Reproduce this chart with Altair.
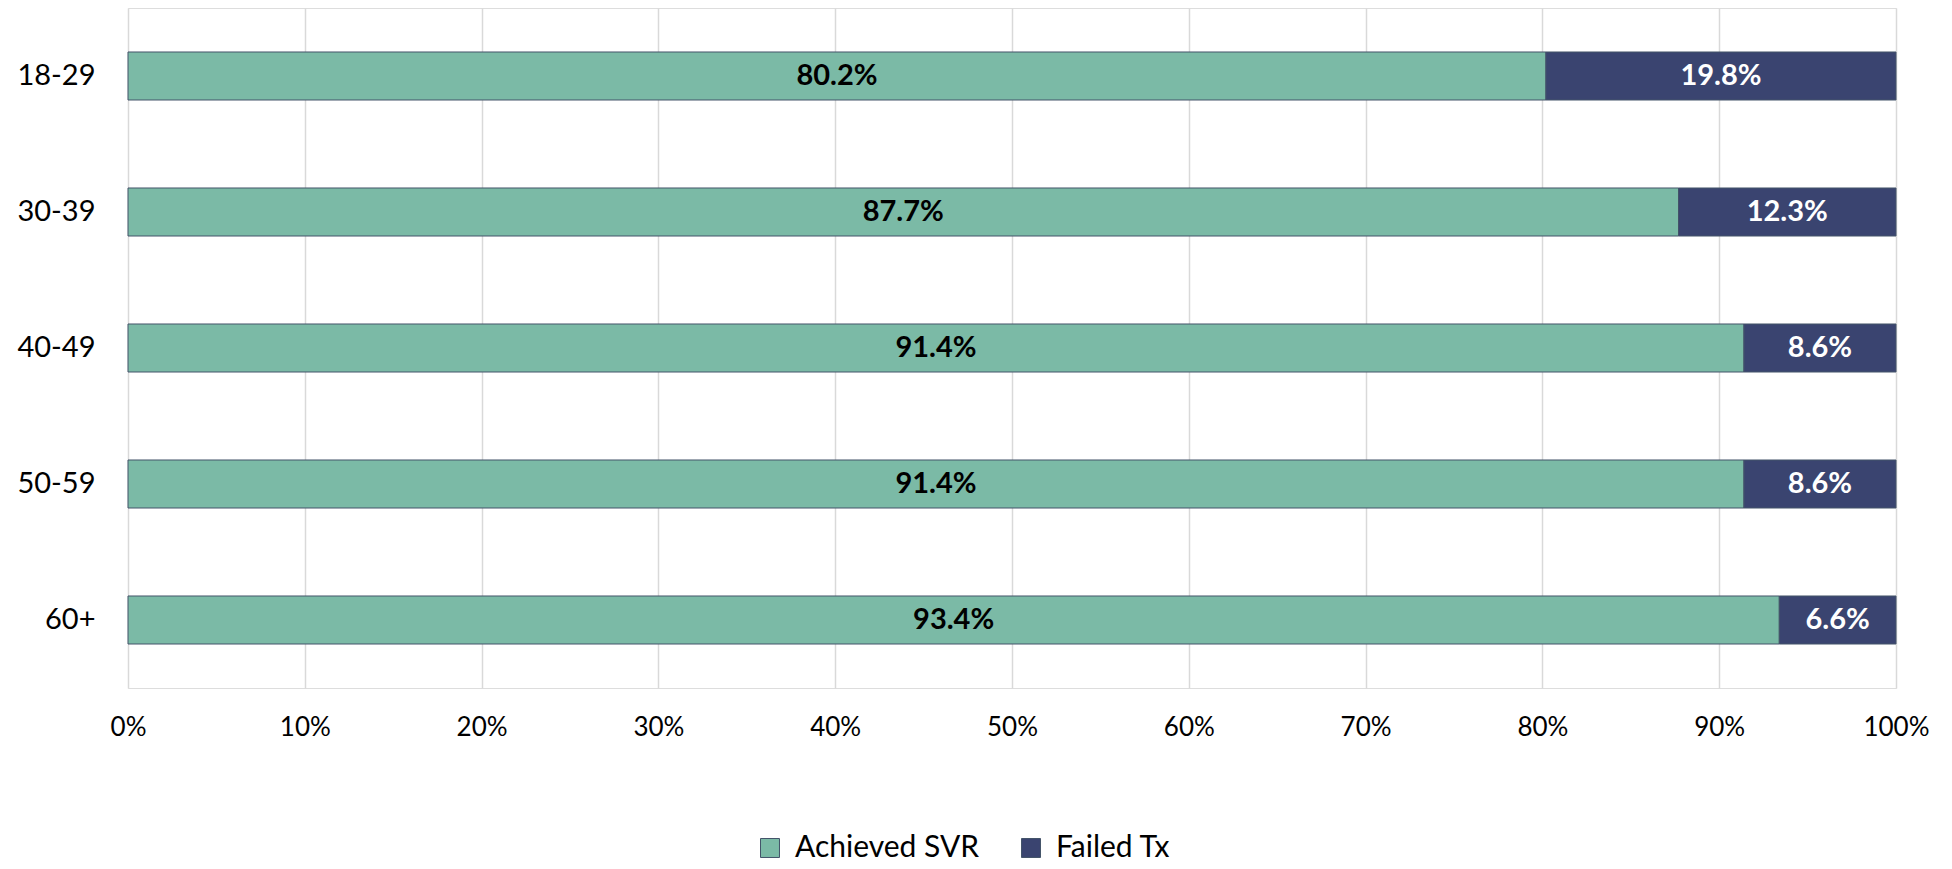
import altair as alt
import pandas as pd

ages = ["18-29", "30-39", "40-49", "50-59", "60+"]
achieved = [80.2, 87.7, 91.4, 91.4, 93.4]
failed = [19.8, 12.3, 8.6, 8.6, 6.6]
series = ["Achieved SVR", "Failed Tx"]
colors = ["#7BBAA6", "#3A4470"]
label_colors = ["#000000", "#FFFFFF"]

rows = []
for a, v1, v2 in zip(ages, achieved, failed):
    rows.append({"age": a, "series": series[0], "start": 0.0, "end": v1 / 100, "label": f"{v1:.1f}%", "tc": label_colors[0]})
    rows.append({"age": a, "series": series[1], "start": v1 / 100, "end": (v1 + v2) / 100, "label": f"{v2:.1f}%", "tc": label_colors[1]})
df = pd.DataFrame(rows)
df["mid"] = (df["start"] + df["end"]) / 2

FONT = "Lato"

y_enc = alt.Y(
    "age:N",
    sort=ages,
    title=None,
    scale=alt.Scale(paddingInner=0.647, paddingOuter=0.3235),
    axis=alt.Axis(domain=False, ticks=False, labelFont=FONT, labelFontSize=29,
                  labelColor="#000000", labelPadding=33, grid=False),
)

bars = alt.Chart(df).mark_bar(stroke="#44546A", strokeWidth=1).encode(
    x=alt.X("start:Q", title=None,
            scale=alt.Scale(domain=[0, 1], nice=False, zero=True),
            axis=alt.Axis(format="%", values=[i / 10 for i in range(11)],
                          domain=False, ticks=False, grid=True,
                          gridColor="#D9D9D9", gridWidth=1.5,
                          labelFont=FONT, labelFontSize=26, labelColor="#000000",
                          labelPadding=26, labelFlush=False)),
    x2="end:Q",
    y=y_enc,
    color=alt.Color("series:N", sort=series,
                    scale=alt.Scale(domain=series, range=colors),
                    legend=alt.Legend(title=None, orient="none", direction="horizontal",
                                      legendX=627, legendY=825,
                                      symbolType="square", symbolSize=360,
                                      symbolStrokeColor="#44546A", symbolStrokeWidth=1,
                                      labelFont=FONT, labelFontSize=30, labelColor="#000000",
                                      labelLimit=500,
                                      labelOffset=10, columnPadding=36)),
)

texts = alt.Chart(df).mark_text(font=FONT, fontSize=29, fontWeight="bold",
                                align="center", baseline="middle").encode(
    x=alt.X("mid:Q"),
    y=alt.Y("age:N", sort=ages),
    text="label:N",
    color=alt.Color("tc:N", scale=None),
)

chart = alt.layer(bars, texts).properties(
    width=1768, height=680,
    autosize=alt.AutoSizeParams(type="none"),
    padding={"left": 120, "top": 0, "right": 40, "bottom": 180},
).configure_view(stroke=None).configure(background="#FFFFFF")

chart.save("out.html", embed_options={"renderer": "svg", "actions": False})
